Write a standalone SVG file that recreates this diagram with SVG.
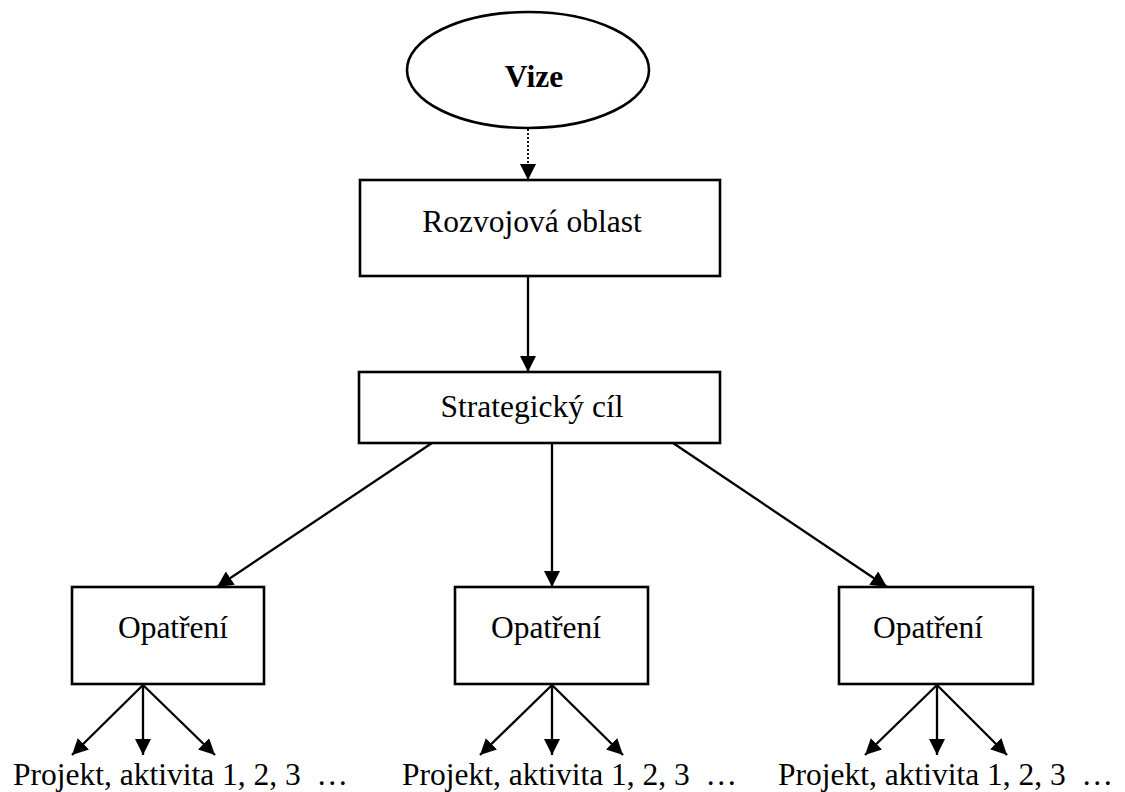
<svg xmlns="http://www.w3.org/2000/svg" width="1125" height="792" viewBox="0 0 1125 792">
<style>
.box{fill:#fff;stroke:#000;stroke-width:2.6}
.t{font-family:"Liberation Serif","Times New Roman",serif;font-size:31.5px;fill:#000}
.c{stroke:#000;stroke-width:2.3;fill:none;marker-end:url(#ah)}
.d{stroke:#000;stroke-width:1.8;fill:none;stroke-dasharray:2,2;marker-end:url(#ah)}
</style>
<defs>
<marker id="ah" viewBox="0 0 16 16" refX="16" refY="8" markerWidth="16" markerHeight="16" markerUnits="userSpaceOnUse" orient="auto">
<path d="M0,0 L16,8 L0,16 z" fill="#000"/>
</marker>
</defs>
<rect width="1125" height="792" fill="#fff"/>
<g id="connectors">
<line class="d" x1="528" y1="129" x2="528" y2="180"/>
<line class="c" x1="528" y1="276" x2="528" y2="372"/>
<line class="c" x1="432" y1="443" x2="217" y2="587"/>
<line class="c" x1="552" y1="443" x2="552" y2="587"/>
<line class="c" x1="673" y1="443" x2="887" y2="587"/>
<line class="c" x1="143" y1="685" x2="72" y2="755"/>
<line class="c" x1="143" y1="685" x2="143" y2="755"/>
<line class="c" x1="143" y1="685" x2="215" y2="755"/>
<line class="c" x1="552" y1="685" x2="480" y2="755"/>
<line class="c" x1="552" y1="685" x2="552" y2="755"/>
<line class="c" x1="552" y1="685" x2="623" y2="755"/>
<line class="c" x1="937" y1="685" x2="865" y2="755"/>
<line class="c" x1="937" y1="685" x2="937" y2="755"/>
<line class="c" x1="937" y1="685" x2="1007" y2="755"/>
</g>
<g id="vize">
<ellipse class="box" cx="528" cy="70" rx="121" ry="58"/>
<text class="t" x="534" y="87" text-anchor="middle" font-weight="bold" font-size="30">Vize</text>
</g>
<g id="rozvojova">
<rect class="box" x="360" y="180" width="360" height="96"/>
<text class="t" x="532" y="232" text-anchor="middle">Rozvojová oblast</text>
</g>
<g id="strategicky">
<rect class="box" x="359" y="372" width="361" height="71"/>
<text class="t" x="532" y="417" text-anchor="middle">Strategický cíl</text>
</g>
<g id="opatreni1">
<rect class="box" x="72" y="587" width="192" height="97"/>
<text class="t" x="173" y="638" text-anchor="middle">Opatření</text>
</g>
<g id="opatreni2">
<rect class="box" x="455" y="587" width="193" height="97"/>
<text class="t" x="546" y="638" text-anchor="middle">Opatření</text>
</g>
<g id="opatreni3">
<rect class="box" x="839" y="587" width="194" height="97"/>
<text class="t" x="928" y="638" text-anchor="middle">Opatření</text>
</g>
<g id="projekty1">
<text class="t" x="13" y="785" style="white-space:pre">Projekt, aktivita 1, 2, 3  …</text>
</g>
<g id="projekty2">
<text class="t" x="402" y="785" style="white-space:pre">Projekt, aktivita 1, 2, 3  …</text>
</g>
<g id="projekty3">
<text class="t" x="778" y="785" style="white-space:pre">Projekt, aktivita 1, 2, 3  …</text>
</g>
</svg>
